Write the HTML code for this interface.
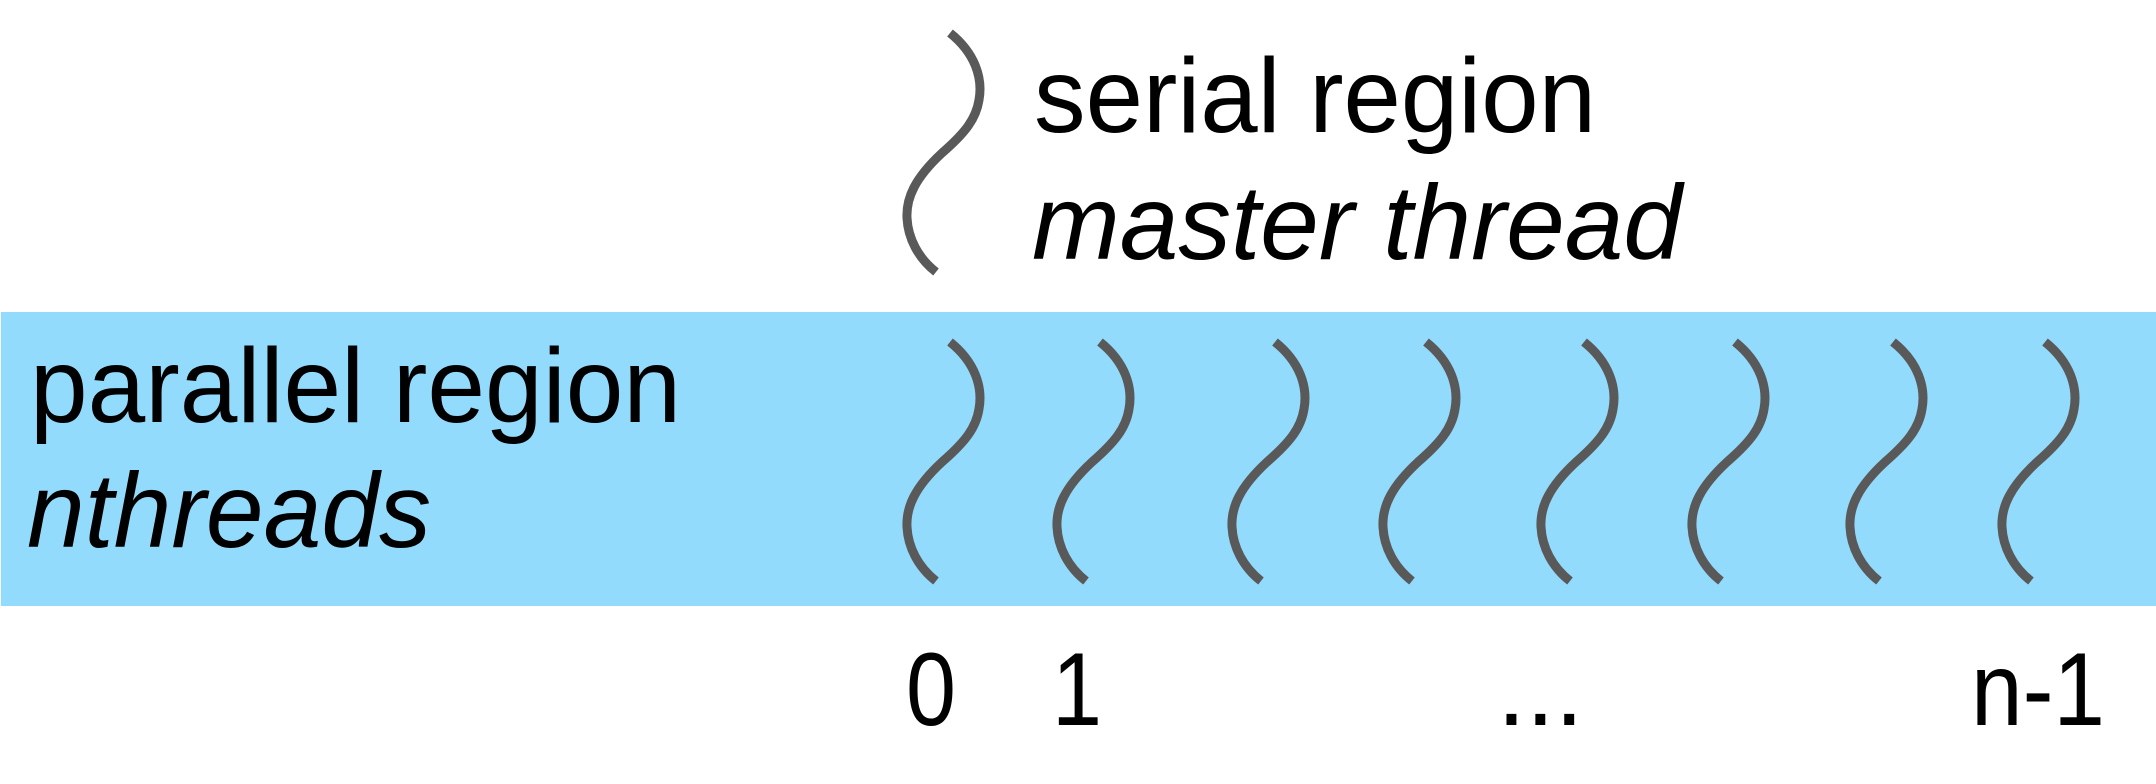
<!DOCTYPE html>
<html><head><style>html,body{margin:0;padding:0;background:#fff;}svg{display:block}</style></head>
<body>
<svg width="2156" height="784" viewBox="0 0 2156 784" xmlns="http://www.w3.org/2000/svg">
<defs>
<path id="w" d="M0,0 C25,20 33,45 29,67 C26,86 15,100 -8,120 C-35,145 -44,165 -43,185 C-42,205 -32,225 -14,239" fill="none" stroke="#595959" stroke-width="9"/>
</defs>
<rect x="1" y="312" width="2155" height="294" fill="#92dbfc"/>
<use href="#w" x="950" y="33"/>
<use href="#w" x="950" y="342"/>
<use href="#w" x="1100" y="342"/>
<use href="#w" x="1275" y="342"/>
<use href="#w" x="1426" y="342"/>
<use href="#w" x="1584" y="342"/>
<use href="#w" x="1735" y="342"/>
<use href="#w" x="1893" y="342"/>
<use href="#w" x="2045" y="342"/>
<g font-family="Liberation Sans, Arial, sans-serif" font-size="106" fill="#000">
<text x="1034" y="132" textLength="562" lengthAdjust="spacingAndGlyphs">serial region</text>
<text x="1032" y="259" font-style="italic" textLength="650" lengthAdjust="spacingAndGlyphs">master thread</text>
<text x="30" y="422" textLength="651" lengthAdjust="spacingAndGlyphs">parallel region</text>
<text x="27" y="547" font-style="italic" textLength="404" lengthAdjust="spacingAndGlyphs">nthreads</text>
</g>
<g font-family="Liberation Sans, Arial, sans-serif" font-size="104" fill="#000">
<text x="906" y="725" textLength="50" lengthAdjust="spacingAndGlyphs">0</text>
<text x="1052" y="725" textLength="50" lengthAdjust="spacingAndGlyphs">1</text>
<text x="1497" y="725">...</text>
<text x="1971" y="725" textLength="134" lengthAdjust="spacingAndGlyphs">n-1</text>
</g>
</svg>
</body></html>
